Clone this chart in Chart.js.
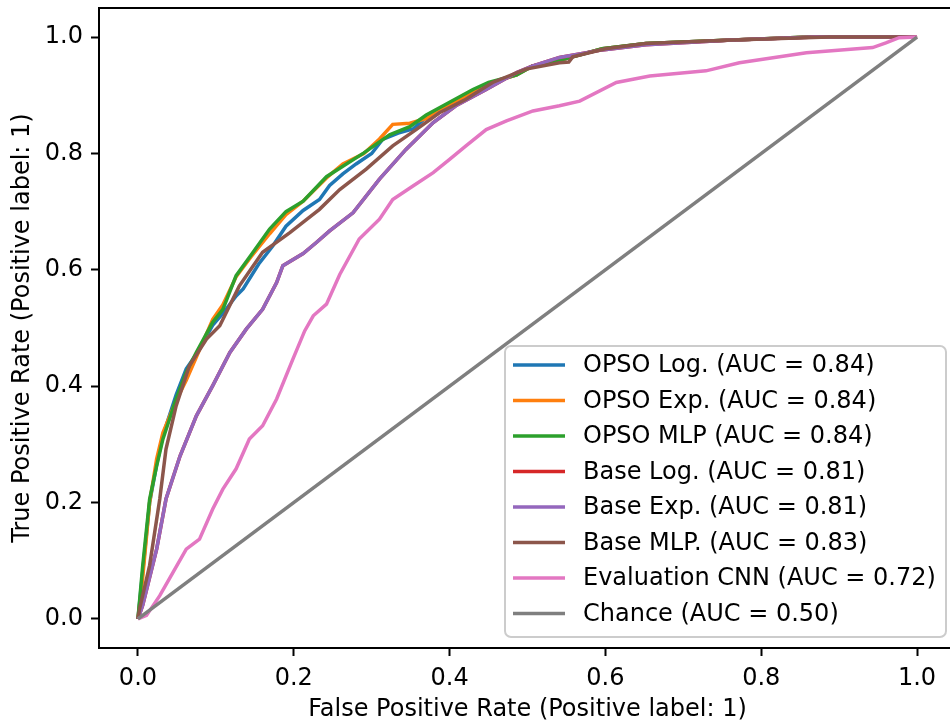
<!DOCTYPE html>
<html>
<head>
<meta charset="utf-8">
<script src="https://cdn.jsdelivr.net/npm/chart.js@4"></script>
<style>
  html, body { margin: 0; padding: 0; overflow: hidden; background: #fff; }
  #wrap { width: 960px; height: 722px; }
</style>
</head>
<body>
<div id="wrap"><canvas id="roc" width="960" height="722"></canvas></div>
<script>
// tick labels on both axes
const tickVals = [0.0, 0.2, 0.4, 0.6, 0.8, 1.0];

// ROC curves (false positive rate / true positive rate)
const opsoLogX = [0, 0.006, 0.015, 0.024, 0.032, 0.049, 0.062, 0.075, 0.096, 0.109, 0.126, 0.135, 0.155, 0.173, 0.19, 0.212, 0.233, 0.246, 0.263, 0.28, 0.30, 0.314, 0.334, 0.353, 0.37, 0.40, 0.43, 0.45, 0.486, 0.506, 0.541, 0.596, 0.652, 0.763, 0.862, 1.0];
const opsoLogY = [0, 0.08, 0.20, 0.265, 0.315, 0.385, 0.43, 0.455, 0.505, 0.525, 0.555, 0.567, 0.61, 0.641, 0.675, 0.702, 0.721, 0.745, 0.765, 0.782, 0.80, 0.824, 0.835, 0.842, 0.862, 0.885, 0.907, 0.920, 0.935, 0.950, 0.960, 0.980, 0.989, 0.995, 1.0, 1.0];

const opsoExpX = [0, 0.006, 0.015, 0.024, 0.032, 0.049, 0.062, 0.075, 0.096, 0.109, 0.126, 0.145, 0.169, 0.19, 0.212, 0.242, 0.263, 0.29, 0.31, 0.327, 0.349, 0.37, 0.40, 0.43, 0.45, 0.486, 0.506, 0.541, 0.596, 0.652, 0.763, 0.862, 1.0];
const opsoExpY = [0, 0.07, 0.20, 0.275, 0.32, 0.375, 0.41, 0.45, 0.515, 0.54, 0.588, 0.622, 0.662, 0.695, 0.718, 0.758, 0.782, 0.80, 0.825, 0.85, 0.852, 0.86, 0.883, 0.905, 0.92, 0.935, 0.950, 0.960, 0.980, 0.989, 0.995, 1.0, 1.0];

const opsoMlpX = [0, 0.006, 0.015, 0.024, 0.032, 0.049, 0.062, 0.075, 0.096, 0.109, 0.126, 0.145, 0.169, 0.19, 0.212, 0.242, 0.263, 0.29, 0.323, 0.349, 0.37, 0.40, 0.43, 0.45, 0.486, 0.506, 0.541, 0.596, 0.652, 0.763, 0.862, 1.0];
const opsoMlpY = [0, 0.09, 0.206, 0.263, 0.309, 0.378, 0.424, 0.458, 0.510, 0.532, 0.590, 0.625, 0.670, 0.700, 0.718, 0.760, 0.778, 0.801, 0.832, 0.846, 0.866, 0.888, 0.910, 0.922, 0.935, 0.950, 0.960, 0.980, 0.989, 0.995, 1.0, 1.0];

const baseLogX = [0, 0.006, 0.024, 0.036, 0.054, 0.075, 0.096, 0.118, 0.139, 0.160, 0.178, 0.186, 0.212, 0.229, 0.246, 0.276, 0.310, 0.344, 0.379, 0.408, 0.447, 0.486, 0.506, 0.541, 0.596, 0.652, 0.763, 0.87, 1.0];
const baseLogY = [0, 0.023, 0.120, 0.206, 0.280, 0.349, 0.401, 0.458, 0.498, 0.532, 0.578, 0.607, 0.628, 0.647, 0.667, 0.698, 0.756, 0.807, 0.853, 0.882, 0.910, 0.939, 0.950, 0.965, 0.978, 0.987, 0.995, 1.0, 1.0];

const baseExpX = [0, 0.006, 0.024, 0.036, 0.054, 0.075, 0.096, 0.118, 0.139, 0.160, 0.178, 0.186, 0.212, 0.229, 0.246, 0.276, 0.310, 0.344, 0.379, 0.408, 0.447, 0.486, 0.506, 0.541, 0.596, 0.652, 0.763, 0.87, 1.0];
const baseExpY = [0, 0.023, 0.120, 0.206, 0.280, 0.349, 0.401, 0.458, 0.498, 0.532, 0.578, 0.607, 0.628, 0.647, 0.667, 0.698, 0.756, 0.807, 0.853, 0.882, 0.910, 0.939, 0.950, 0.965, 0.978, 0.987, 0.995, 1.0, 1.0];

const baseMlpX = [0, 0.002, 0.015, 0.028, 0.036, 0.049, 0.066, 0.088, 0.105, 0.130, 0.160, 0.195, 0.215, 0.233, 0.259, 0.293, 0.327, 0.357, 0.387, 0.421, 0.455, 0.498, 0.541, 0.553, 0.558, 0.60, 0.652, 0.763, 0.887, 1.0];
const baseMlpY = [0, 0.017, 0.092, 0.206, 0.292, 0.366, 0.435, 0.481, 0.504, 0.572, 0.630, 0.664, 0.685, 0.704, 0.738, 0.773, 0.813, 0.841, 0.870, 0.893, 0.922, 0.945, 0.956, 0.957, 0.966, 0.980, 0.989, 0.995, 1.0, 1.0];

const cnnX = [0, 0.011, 0.028, 0.045, 0.062, 0.079, 0.096, 0.109, 0.126, 0.143, 0.160, 0.178, 0.199, 0.214, 0.225, 0.242, 0.259, 0.284, 0.310, 0.327, 0.353, 0.379, 0.400, 0.421, 0.447, 0.473, 0.507, 0.541, 0.567, 0.614, 0.657, 0.729, 0.772, 0.858, 0.943, 0.960, 0.977, 1.0];
const cnnY = [0, 0.006, 0.040, 0.080, 0.120, 0.137, 0.189, 0.223, 0.258, 0.309, 0.332, 0.378, 0.447, 0.495, 0.521, 0.541, 0.592, 0.653, 0.687, 0.721, 0.744, 0.767, 0.790, 0.813, 0.841, 0.856, 0.873, 0.882, 0.890, 0.922, 0.933, 0.942, 0.956, 0.973, 0.982, 0.990, 0.999, 1.0];

const chanceX = [0, 1];
const chanceY = [0, 1];

const labels = [
    'OPSO Log. (AUC = 0.84)',
    'OPSO Exp. (AUC = 0.84)',
    'OPSO MLP (AUC = 0.84)',
    'Base Log. (AUC = 0.81)',
    'Base Exp. (AUC = 0.81)',
    'Base MLP. (AUC = 0.83)',
    'Evaluation CNN (AUC = 0.72)',
    'Chance (AUC = 0.50)'
];
const colors = ['#1f77b4', '#ff7f0e', '#2ca02c', '#d62728', '#9467bd', '#8c564b', '#e377c2', '#7f7f7f'];
const curves = [
    [opsoLogX, opsoLogY], [opsoExpX, opsoExpY], [opsoMlpX, opsoMlpY],
    [baseLogX, baseLogY], [baseExpX, baseExpY], [baseMlpX, baseMlpY],
    [cnnX, cnnY], [chanceX, chanceY]
];

const toPoints = (xs, ys) => xs.map((x, i) => ({ x: x, y: ys[i] }));

Chart.defaults.font.family = "'DejaVu Sans', sans-serif";
Chart.defaults.color = '#000';

// box around the plot, like matplotlib spines
const framePlugin = {
    id: 'frame',
    afterDatasetsDraw(chart) {
        const a = chart.chartArea;
        const ctx = chart.ctx;
        ctx.save();
        ctx.strokeStyle = '#000';
        ctx.lineWidth = 2;
        ctx.strokeRect(a.left, a.top, a.right - a.left, a.bottom - a.top);
        ctx.restore();
    }
};

// legend box in the lower right corner
const legendPlugin = {
    id: 'boxLegend',
    afterDraw(chart) {
        const ctx = chart.ctx;
        const bx = 505, by = 346, bw = 441, bh = 291, r = 6;
        ctx.save();
        ctx.beginPath();
        ctx.roundRect(bx, by, bw, bh, r);
        ctx.fillStyle = 'rgba(255,255,255,0.8)';
        ctx.fill();
        ctx.strokeStyle = '#cccccc';
        ctx.lineWidth = 2;
        ctx.stroke();
        ctx.font = "24px 'DejaVu Sans'";
        ctx.textBaseline = 'middle';
        ctx.textAlign = 'left';
        chart.data.datasets.forEach((ds, i) => {
            const cy = 365 + i * 35.5;
            ctx.beginPath();
            ctx.moveTo(513, cy);
            ctx.lineTo(565, cy);
            ctx.strokeStyle = ds.borderColor;
            ctx.lineWidth = 3.6;
            ctx.stroke();
            ctx.fillStyle = '#000';
            ctx.fillText(ds.label, 583, cy + 1);
        });
        ctx.restore();
    }
};

function axisOpts(title, isX) {
    return {
        type: 'linear',
        min: -0.05,
        max: 1.05,
        afterBuildTicks: s => { s.ticks = tickVals.map(v => ({ value: v })); },
        afterFit: s => {
            if (isX) s.height = 74; else s.width = 99;
            s.paddingTop = 0; s.paddingBottom = 0;
            s.paddingLeft = 0; s.paddingRight = 0;
        },
        ticks: {
            callback: v => v.toFixed(1),
            font: { size: 24 },
            color: '#000',
            padding: 8,
            maxRotation: 0,
            autoSkip: false
        },
        grid: {
            drawOnChartArea: false,
            drawTicks: true,
            tickLength: 8,
            tickWidth: 2,
            tickColor: '#000'
        },
        border: { display: false },
        title: {
            display: true,
            text: title,
            font: { size: 24 },
            color: '#000',
            padding: isX ? { top: 0, bottom: -2 } : { top: 8, bottom: 0 }
        }
    };
}

const n = curves.length;
new Chart(document.getElementById('roc'), {
    type: 'scatter',
    data: {
        datasets: curves.map((c, i) => ({
            label: labels[i],
            data: toPoints(c[0], c[1]),
            showLine: true,
            borderColor: colors[i],
            backgroundColor: colors[i],
            borderWidth: 3.5,
            pointRadius: 0,
            tension: 0,
            order: n - i
        }))
    },
    options: {
        responsive: false,
        animation: false,
        layout: { padding: { left: 0, top: 8, right: 4, bottom: 0 } },
        plugins: {
            legend: { display: false },
            tooltip: { enabled: false }
        },
        scales: {
            x: axisOpts('False Positive Rate (Positive label: 1)', true),
            y: axisOpts('True Positive Rate (Positive label: 1)', false)
        }
    },
    plugins: [framePlugin, legendPlugin]
});
</script>
</body>
</html>
